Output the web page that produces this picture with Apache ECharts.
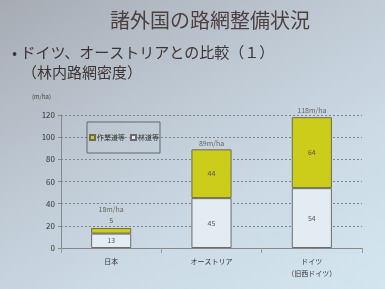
<!DOCTYPE html>
<html><head><meta charset="utf-8">
<script src="https://cdn.jsdelivr.net/npm/echarts@6/dist/echarts.min.js"></script>
<style>
html,body{margin:0;padding:0;}
body{width:385px;height:289px;background:linear-gradient(150deg,#a6abb3 0%,#bcc6d0 35%,#cbd9e4 65%,#d3e6f0 100%);}
#c{width:385px;height:289px;}
</style></head><body><div id="c"></div>
<script>
const categories = ['日本', 'オーストリア', 'ドイツ\n（旧西ドイツ）'];
const rindo = [13, 45, 54];        // 林道等
const sagyodo = [5, 44, 64];       // 作業道等
const totals = [18, 89, 118];      // 合計 (m/ha)
const yTicks = [0, 20, 40, 60, 80, 100, 120];

const chart = echarts.init(document.getElementById('c'), null, {renderer:'canvas'});
const font = '"Noto Sans CJK JP", sans-serif';
chart.setOption({
  backgroundColor: 'transparent',
  textStyle: {fontFamily: font},
  graphic: [
    {type:'text', left: 110, top: 10, style:{text:'諸外国の路網整備状況', font:'20px "Noto Sans CJK JP"', fill:'#4d4040'}},
    {type:'text', left: 12, top: 45, style:{text:'• ドイツ、オーストリアとの比較（１）', font:'15px "Noto Sans CJK JP"', fill:'#3c3434'}},
    {type:'text', left: 22, top: 65, style:{text:'（林内路網密度）', font:'15px "Noto Sans CJK JP"', fill:'#3c3434'}},
    {type:'text', left: 32, top: 94, style:{text:'(m/ha)', font:'6px "Noto Sans CJK JP"', fill:'#444'}}
  ],
  legend: {
    data: ['作業道等', '林道等'],
    left: 87, top: 122, orient: 'horizontal',
    padding: [12, 1, 12, 2], itemGap: 5, itemWidth: 5, itemHeight: 5,
    borderColor: '#666', borderWidth: 1,
    textStyle: {fontSize: 7, color: '#333', padding:[0,0,0,-3]},
    icon: 'rect'
  },
  grid: {left: 61, right: 23, top: 115, bottom: 41},
  xAxis: {
    type: 'category', data: categories,
    axisLine: {lineStyle: {color: '#888'}},
    axisTick: {show: true, alignWithLabel: false, lineStyle:{color:'#999'}},
    axisLabel: {fontSize: 7, color: '#333', margin: 7, lineHeight: 12}
  },
  yAxis: {
    type: 'value', min: 0, max: 120, interval: 20,
    axisLine: {show: true, lineStyle: {color: '#888'}},
    axisTick: {show: true, length: 3, lineStyle: {color: '#888'}},
    axisLabel: {fontSize: 8, color: '#333', margin: 6},
    splitLine: {lineStyle: {type: [2, 2], color: '#7d8590'}}
  },
  series: [
    {name: '林道等', type: 'bar', stack: 's', barWidth: '40%',
     data: rindo,
     itemStyle: {color: '#e3ecf2', borderColor: '#6c6c6c', borderWidth: 1},
     label: {show: true, position: 'inside', fontSize: 7, color: '#555'}},
    {name: '作業道等', type: 'bar', stack: 's',
     data: sagyodo.map((v, i) => i === 0 ? {value: v, label: {position: 'top', distance: 4}} : v),
     itemStyle: {color: '#cccc1a', borderColor: '#6c6c50', borderWidth: 1},
     label: {show: true, position: 'inside', fontSize: 7, color: '#555'}},
    {name: '合計', type: 'bar', stack: 's',
     data: totals.map((v, i) => ({value: 0, label: {distance: i === 0 ? 15 : 3}})),
     label: {show: true, position: 'top', fontSize: 7, color: '#666',
       formatter: p => totals[p.dataIndex] + 'm/ha'},
     tooltip: {show: false}}
  ]
});
</script></body></html>
